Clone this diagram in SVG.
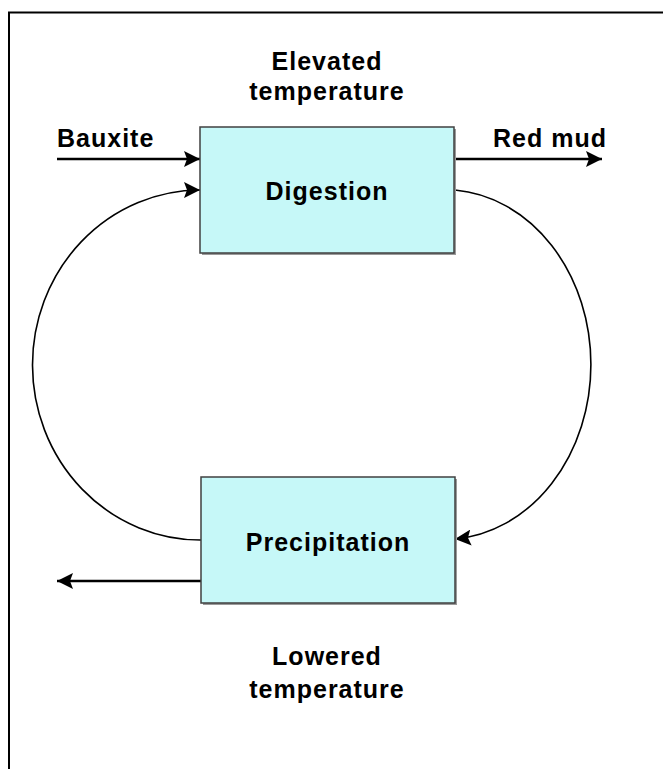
<svg xmlns="http://www.w3.org/2000/svg" width="663" height="769" viewBox="0 0 663 769">
<style>
.lbl{font-family:"Liberation Sans",Arial,sans-serif;font-weight:bold;font-size:25px;fill:#000;letter-spacing:1px}
.box{fill:#C6F8F8;stroke:#404040;stroke-width:1.5}
.shadow{fill:#9a9a9a}
.flow{fill:none;stroke:#000;stroke-width:2.5}
.loop{fill:none;stroke:#000;stroke-width:1.6}
</style>
<defs>
<marker id="ah" markerUnits="userSpaceOnUse" markerWidth="18" markerHeight="16" refX="16" refY="8" orient="auto">
<path d="M0,0 L16,8 L0,16 L3,8 Z" fill="#000"/>
</marker>
</defs>
<rect x="0" y="0" width="663" height="769" fill="#fff"/>
<rect x="9" y="12.5" width="700" height="800" fill="none" stroke="#000" stroke-width="2"/>
<g id="connectors">
<path class="flow" d="M57,159 L200,159" marker-end="url(#ah)"/>
<path class="flow" d="M455,159 L602,159" marker-end="url(#ah)"/>
<path class="flow" d="M201,581 L57,581" marker-end="url(#ah)"/>
<path class="loop" d="M201,540 A168,175 0 0 1 200,190" marker-end="url(#ah)"/>
<path class="loop" d="M455,190 A147,175 0 0 1 455,539" marker-end="url(#ah)"/>
</g>
<g id="digestion">
<rect class="shadow" x="202" y="129" width="254" height="126"/>
<rect class="box" x="200" y="127" width="254" height="126"/>
<text class="lbl" x="327" y="200" text-anchor="middle">Digestion</text>
</g>
<g id="precipitation">
<rect class="shadow" x="203" y="479" width="254" height="126"/>
<rect class="box" x="201" y="477" width="254" height="126"/>
<text class="lbl" x="328" y="551" text-anchor="middle">Precipitation</text>
</g>
<g id="labels">
<text class="lbl" x="327" y="70" text-anchor="middle">Elevated</text>
<text class="lbl" x="327" y="100" text-anchor="middle">temperature</text>
<text class="lbl" x="57" y="147">Bauxite</text>
<text class="lbl" x="493" y="147">Red mud</text>
<text class="lbl" x="327" y="665" text-anchor="middle">Lowered</text>
<text class="lbl" x="327" y="698" text-anchor="middle">temperature</text>
</g>
</svg>
